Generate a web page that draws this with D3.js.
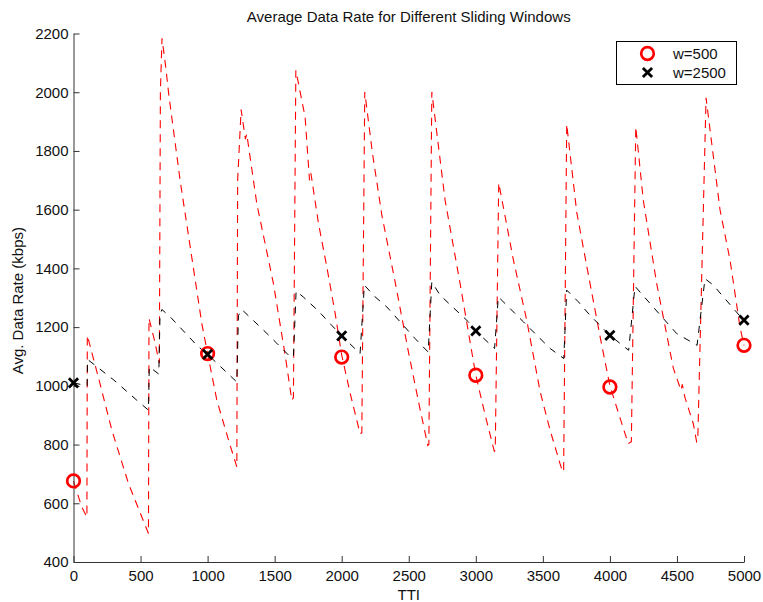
<!DOCTYPE html>
<html>
<head>
<meta charset="utf-8">
<script src="https://cdn.jsdelivr.net/npm/d3@7"></script>
<style>
  body { margin: 0; background: #fff; }
  svg { font-family: "Liberation Sans", Arial, sans-serif; }
</style>
</head>
<body>
<svg id="chart" width="763" height="602"></svg>
<script>
// w=500 sliding window (red dashed), vertices
var rateW500 = [
  [0,675],[62,587],[100,553],[103,1172],[199,1005],[286,849],[410,667],[559,497],
  [563,1230],[604,1155],[640,1077],[648,2000],[660,2184],[689,2081],[711,1990],[795,1700],
  [957,1212],[1000,1110],[1069,951],[1156,815],[1218,724],
  [1224,1700],[1250,1941],[1282,1840],[1292,1858],[1367,1620],[1491,1348],[1580,1100],[1628,951],
  [1640,960],[1658,2075],[1690,2001],[1727,1916],[1760,1700],[1770,1725],[1827,1553],[1889,1405],
  [1950,1250],[2000,1105],[2063,975],[2137,837],
  [2150,840],[2172,2001],[2230,1790],[2300,1580],[2400,1350],[2500,1110],[2580,930],[2642,797],
  [2650,800],[2672,2001],[2771,1632],[2883,1348],[3000,1036],[3070,900],[3138,777],
  [3145,780],[3171,1691],[3205,1610],[3281,1427],[3380,1223],[3480,980],[3554,849],[3628,735],[3648,707],
  [3655,710],[3678,1891],[3753,1590],[3852,1348],[3930,1160],[4000,1000],[4076,890],[4137,803],
  [4160,810],[4193,1882],[4249,1632],[4349,1348],[4473,1060],[4530,985],[4540,1005],[4560,960],[4622,871],[4647,809],
  [4655,812],[4717,1981],[4821,1600],[4896,1428],[4970,1200],[5000,1138]
];

// w=2500 sliding window (black dashed)
var rateW2500 = [
  [0,1010],[102,1000],[105,1090],[300,1020],[472,951],[559,917],[565,1065],[636,1040],[645,1240],
  [659,1260],[721,1235],[920,1138],[1000,1107],[1218,1013],[1230,1240],[1255,1260],[1416,1190],
  [1516,1145],[1603,1105],[1640,1098],[1660,1323],[1715,1302],[1826,1255],[1926,1206],[2000,1170],
  [2137,1110],[2169,1343],[2249,1303],[2336,1269],[2436,1218],[2547,1161],[2645,1115],[2672,1354],
  [2733,1309],[2945,1218],[3000,1187],[3140,1127],[3168,1303],[3243,1269],[3355,1218],[3455,1172],
  [3555,1127],[3656,1093],[3678,1326],[3765,1286],[3852,1240],[4000,1172],[4140,1121],[4187,1339],
  [4312,1274],[4498,1178],[4650,1138],[4709,1365],[4771,1343],[4933,1257],[5000,1222]
];

// sampled markers every 1000 TTI
var markTTI = [0, 1000, 2000, 3000, 4000, 5000];
var markW500 = [676, 1110, 1098, 1036, 996, 1138];
var markW2500 = [1010, 1107, 1170, 1187, 1172, 1224];

var xTicks = d3.range(0, 5001, 500);
var yTicks = d3.range(400, 2201, 200);
var legendLabels = ['w=500', 'w=2500'];

var svg = d3.select('#chart');
var margin = {left: 73.5, right: 19, top: 33.5, bottom: 40};
var W = 763, H = 602;
var fontSize = '15px';

var x = d3.scaleLinear().domain([0, 5000]).range([margin.left, W - margin.right]);
var y = d3.scaleLinear().domain([400, 2200]).range([H - margin.bottom, margin.top]);

// title
svg.append('text')
  .attr('x', (x(0) + x(5000)) / 2)
  .attr('y', 22)
  .attr('text-anchor', 'middle')
  .style('font-size', fontSize)
  .attr('fill', '#111')
  .text('Average Data Rate for Different Sliding Windows');

// lines
var line = d3.line()
  .x(function(d){ return x(d[0]); })
  .y(function(d){ return y(d[1]); });

svg.append('path')
  .datum(rateW500)
  .attr('d', line)
  .attr('fill', 'none')
  .attr('stroke', '#ff0000')
  .attr('stroke-width', 1.1)
  .attr('stroke-dasharray', '8,6');

svg.append('path')
  .datum(rateW2500)
  .attr('d', line)
  .attr('fill', 'none')
  .attr('stroke', '#000')
  .attr('stroke-width', 1)
  .attr('stroke-dasharray', '7,7');

// axes
var xAxis = d3.axisBottom(x).tickValues(xTicks).tickFormat(d3.format('d'))
  .tickSize(-6).tickPadding(8).tickSizeOuter(0);
var yAxis = d3.axisLeft(y).tickValues(yTicks).tickFormat(d3.format('d'))
  .tickSize(-6).tickPadding(5).tickSizeOuter(0);

var gx = svg.append('g')
  .attr('transform', 'translate(0,' + y(400) + ')')
  .call(xAxis);
var gy = svg.append('g')
  .attr('transform', 'translate(' + x(0) + ',0)')
  .call(yAxis);

[gx, gy].forEach(function(g){
  g.selectAll('path, line').attr('stroke', '#333');
  g.selectAll('text').style('font-size', fontSize).attr('fill', '#111')
    .style('font-family', '"Liberation Sans", Arial, sans-serif');
});

svg.append('text')
  .attr('x', (x(0) + x(5000)) / 2)
  .attr('y', 599.5)
  .attr('text-anchor', 'middle')
  .style('font-size', fontSize)
  .attr('fill', '#111')
  .text('TTI');

svg.append('text')
  .attr('transform', 'translate(23,' + y(1290) + ') rotate(-90)')
  .attr('text-anchor', 'middle')
  .style('font-size', fontSize)
  .attr('fill', '#111')
  .text('Avg. Data Rate (kbps)');

// markers
function drawCross(g, cx, cy, r){
  g.append('path')
    .attr('d', 'M' + (cx - r) + ',' + (cy - r) + 'L' + (cx + r) + ',' + (cy + r) +
               'M' + (cx - r) + ',' + (cy + r) + 'L' + (cx + r) + ',' + (cy - r))
    .attr('stroke', '#000')
    .attr('stroke-width', 2.8)
    .attr('fill', 'none');
}

var marks = svg.append('g');
markTTI.forEach(function(t, i){
  marks.append('circle')
    .attr('cx', x(t)).attr('cy', y(markW500[i])).attr('r', 6.3)
    .attr('fill', 'none').attr('stroke', '#ff0000').attr('stroke-width', 2.7);
});
markTTI.forEach(function(t, i){
  drawCross(marks, x(t), y(markW2500[i]), 4.6);
});

// legend
var leg = svg.append('g');
leg.append('rect')
  .attr('x', 616.5).attr('y', 41.5).attr('width', 120).attr('height', 43)
  .attr('fill', '#fff').attr('stroke', '#000').attr('stroke-width', 1);
leg.append('circle')
  .attr('cx', 647.5).attr('cy', 53.5).attr('r', 6.3)
  .attr('fill', 'none').attr('stroke', '#ff0000').attr('stroke-width', 2.7);
drawCross(leg, 647.5, 72.5, 4.6);
legendLabels.forEach(function(l, i){
  leg.append('text')
    .attr('x', 673).attr('y', 58.5 + i * 19)
    .style('font-size', fontSize)
    .attr('fill', '#111')
    .text(l);
});
</script>
</body>
</html>
